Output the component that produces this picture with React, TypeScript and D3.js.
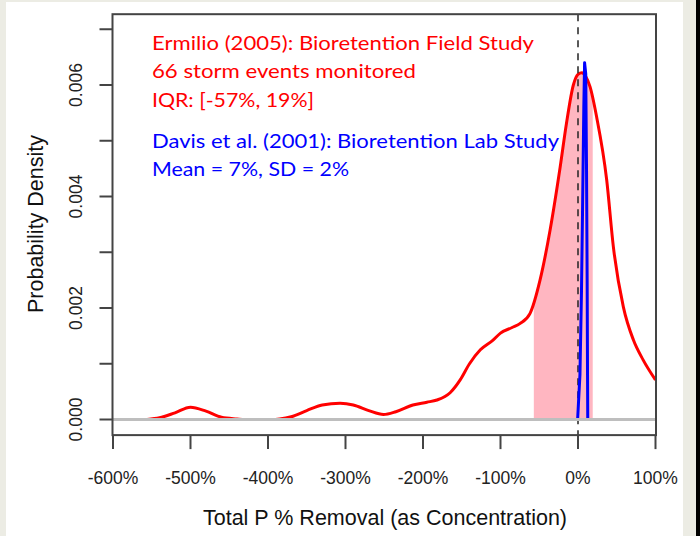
import React from 'react';
import * as d3 from 'd3';

// Field study density (x = % removal, y = probability density)
const fieldX = [-556, -540, -520, -500, -480, -460, -440, -430, -395, -385, -370, -350, -330, -307, -290, -270, -251, -235, -213, -195, -182, -165, -152, -140, -126, -110, -100, -85, -75, -62, -49, -36, -23, -15, -6, 0, 5, 10, 15.5, 24, 37, 45.6, 58.5, 71.4, 84, 100];
const fieldY = [0, 0.00003, 0.00012, 0.00022, 0.00015, 0.00004, 0.00001, 0, 0, 0.00001, 0.00005, 0.00016, 0.00026, 0.00029, 0.00026, 0.00016, 0.00009, 0.00014, 0.00026, 0.00031, 0.00035, 0.00048, 0.00071, 0.001, 0.00125, 0.00142, 0.00155, 0.00165, 0.00172, 0.0019, 0.0025, 0.0034, 0.00453, 0.0053, 0.006, 0.00619, 0.00622, 0.00615, 0.00597, 0.00543, 0.0043, 0.0031, 0.00202, 0.00143, 0.00107, 0.00071];

// Lab study curve
const labX = [-0.5, 2.5, 4.5, 6, 7.5, 8.5, 10, 11, 11.8, 12.3, 12.6];
const labY = [0, 0.0008, 0.0023, 0.0039, 0.0056, 0.0064, 0.0062, 0.0045, 0.0025, 0.0008, 0];

const iqr = [-57, 19];

const xTicks = [-600, -500, -400, -300, -200, -100, 0, 100];
const xTickLabels = ['-600%', '-500%', '-400%', '-300%', '-200%', '-100%', '0%', '100%'];
const yTicks = [0, 0.001, 0.002, 0.003, 0.004, 0.005, 0.006, 0.007];
const yLabelTicks = [0, 0.002, 0.004, 0.006];
const yTickLabels = ['0.000', '0.002', '0.004', '0.006'];
const xLim = [-600, 100];
const yLim = [-0.00028, 0.00727];

const redLines = ['Ermilio (2005): Bioretention Field Study', '66 storm events monitored', 'IQR: [-57%, 19%]'];
const redWidths = [382, 264, 162];
const blueLines = ['Davis et al. (2001): Bioretention Lab Study', 'Mean = 7%, SD = 2%'];
const blueWidths = [407, 197];

export default function App() {
  const x = d3.scaleLinear().domain(xLim).range([113, 655.5]);
  const y = d3.scaleLinear().domain([0, 0.006]).range([419.5, 85]);
  const left = x(xLim[0]) - 0.5;
  const right = x(xLim[1]) + 0.5;
  const top = y(yLim[1]);
  const bottom = y(yLim[0]);

  const fieldPts: [number, number][] = fieldX.map((v, i) => [v, fieldY[i]]);
  const labPts: [number, number][] = labX.map((v, i) => [v, labY[i]]);
  const line = d3.line<[number, number]>().x(d => x(d[0])).y(d => y(d[1])).curve(d3.curveMonotoneX);
  const area = d3.area<[number, number]>().x(d => x(d[0])).y0(y(0)).y1(d => y(d[1])).curve(d3.curveMonotoneX);
  const labLine = d3.line<[number, number]>().x(d => x(d[0])).y(d => y(d[1]));

  const axisColor = '#444';
  const sans = '"Liberation Sans", Arial, sans-serif';
  const noteFont = 'Lato, "Open Sans", sans-serif';

  return (
    <svg width={700} height={536} style={{ position: 'absolute', left: 0, top: 0 }}>
      <rect x={0} y={0} width={700} height={536} fill="#ecece4" />
      <rect x={6} y={2} width={677} height={534} fill="#ffffff" />
      <rect x={696} y={0} width={4} height={536} fill="#000" />
      <defs>
        <clipPath id="iqr">
          <rect x={x(iqr[0])} y={top} width={x(iqr[1]) - x(iqr[0])} height={bottom - top} />
        </clipPath>
        <clipPath id="plot">
          <rect x={left} y={top} width={right - left} height={bottom - top} />
        </clipPath>
      </defs>
      <g clipPath="url(#plot)">
        <path d={area(fieldPts) || ''} fill="#ffb6c1" clipPath="url(#iqr)" />
        <path d={line(fieldPts) || ''} fill="none" stroke="#ff0000" strokeWidth={3} strokeLinejoin="round" />
        <line x1={x(0)} x2={x(0)} y1={top} y2={bottom} stroke="#222" strokeWidth={1.5} strokeDasharray="7,6" />
        <path d={labLine(labPts) || ''} fill="none" stroke="#0000ff" strokeWidth={3} strokeLinejoin="round" />
        <line x1={left} x2={right} y1={y(0)} y2={y(0)} stroke="#bebebe" strokeWidth={3} />
      </g>
      <rect x={left} y={top} width={right - left} height={bottom - top} fill="none" stroke={axisColor} strokeWidth={2} />
      {xTicks.map((t, i) => (
        <g key={'xt' + i}>
          <line x1={x(t)} x2={x(t)} y1={bottom} y2={bottom + 14} stroke={axisColor} strokeWidth={2} />
          <text x={x(t)} y={484} textAnchor="middle" fontFamily={sans} fontSize={17.5} fill="#222">{xTickLabels[i]}</text>
        </g>
      ))}
      {yTicks.map((t, i) => (
        <line key={'yt' + i} x1={left - 13} x2={left} y1={y(t)} y2={y(t)} stroke={axisColor} strokeWidth={2} />
      ))}
      {yLabelTicks.map((t, i) => (
        <text key={'yl' + i} transform={`translate(82,${y(t)}) rotate(-90)`} textAnchor="middle" fontFamily={sans} fontSize={17.5} fill="#222">{yTickLabels[i]}</text>
      ))}
      <text x={385} y={525} textAnchor="middle" fontFamily={sans} fontSize={21.5} fill="#111">Total P % Removal (as Concentration)</text>
      <text transform={`translate(43,224) rotate(-90)`} textAnchor="middle" fontFamily={sans} fontSize={21.5} fill="#111">Probability Density</text>
      {redLines.map((s, i) => (
        <text key={'r' + i} x={152} y={50 + i * 28.3} fontFamily={noteFont} fontSize={20} fill="#ff0000" textLength={redWidths[i]} lengthAdjust="spacingAndGlyphs">{s}</text>
      ))}
      {blueLines.map((s, i) => (
        <text key={'b' + i} x={152} y={147.5 + i * 28.7} fontFamily={noteFont} fontSize={20} fill="#0000ff" textLength={blueWidths[i]} lengthAdjust="spacingAndGlyphs">{s}</text>
      ))}
    </svg>
  );
}
